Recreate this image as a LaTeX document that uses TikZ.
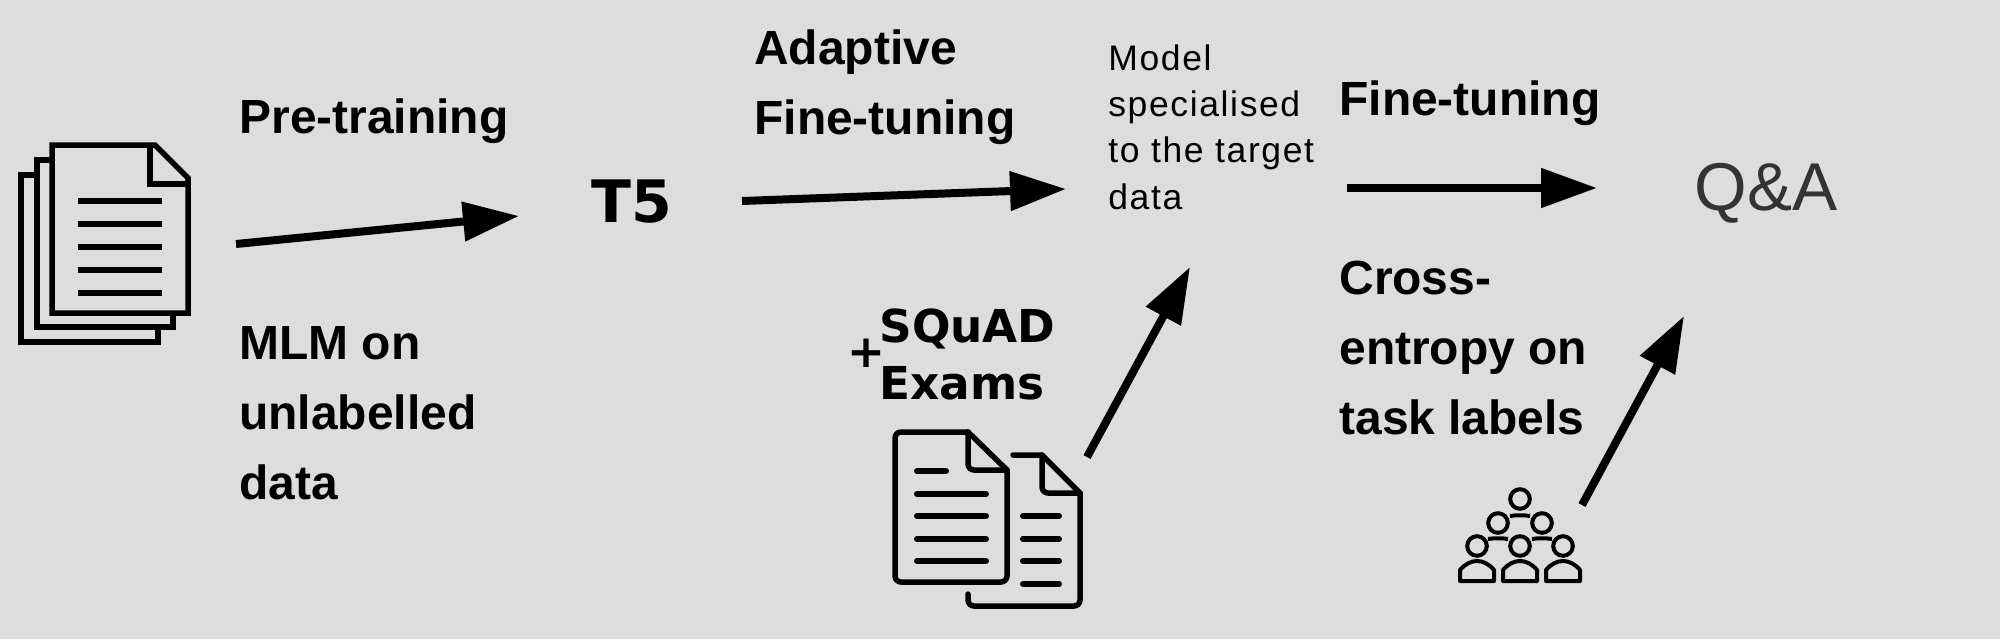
\documentclass[tikz,border=0pt]{standalone}
\usepackage{fontspec}
\setmainfont{Liberation Sans}
\newfontfamily\dejavu{DejaVu Sans}
\newfontfamily\spaced[LetterSpace=4.6]{Liberation Sans}
\usetikzlibrary{arrows.meta}
\definecolor{bgcol}{HTML}{DDDDDD}
\tikzset{
	heading/.style={anchor=base west,inner sep=0pt,align=left,font=\fontsize{27.3}{39.8}\selectfont\bfseries},
	plaintext/.style={anchor=base west,inner sep=0pt,align=left,font=\fontsize{20.2}{26.2}\selectfont\spaced},
	dvtext/.style={anchor=base west,inner sep=0pt,align=left,font=\fontsize{25.8}{31.9}\selectfont\dejavu\bfseries},
	arrowline/.style={-{Triangle[length=1.12cm,width=0.76cm]},line width=0.16cm},
}
\begin{document}
\begin{tikzpicture}[x=0.02cm,y=-0.02cm]
	\fill[bgcol] (0,0) rectangle (2000,639);
	\useasboundingbox (0,0) rectangle (2000,639);
	% stack of pages
	\draw[line width=5.5*0.02cm,miter limit=10] (52,145)--(155,145)--(188,178)--(188,313)--(52,313)--cycle;
	\draw[line width=5.5*0.02cm] (150,145)--(150,184)--(188,184);
	\draw[line width=5.5*0.02cm] (52,160)--(37,160)--(37,327)--(173,327)--(173,313);
	\draw[line width=5.5*0.02cm] (37,175)--(21,175)--(21,342)--(158,342)--(158,327);
	\foreach \y in {201,224,247,270,293}
		\draw[line width=6*0.02cm] (78,\y)--(162,\y);
	% two pages
	\begin{scope}[line width=5.5*0.02cm,line cap=round,line join=round]
		\draw[rounded corners=6*0.02cm] (968,432)--(895,432)--(895,582)--(1007,582)--(1007,470);
		\draw (968,432)--(1007,470);
		\draw[rounded corners=6*0.02cm] (968,432)--(968,470)--(1007,470);
		\draw[line width=6*0.02cm] (917,471)--(946,471);
		\foreach \y in {494,516,539,561}
			\draw[line width=6*0.02cm] (917,\y)--(986,\y);
		\draw (1013,455)--(1042,455)--(1080,493);
		\draw[rounded corners=6*0.02cm] (1080,493)--(1080,606)--(968,606)--(968,594);
		\draw[rounded corners=6*0.02cm] (1042,455)--(1042,493)--(1080,493);
		\foreach \y in {516,539,561,584}
			\draw[line width=6*0.02cm] (1023,\y)--(1059,\y);
	\end{scope}
	% people
	\begin{scope}[line width=4*0.02cm]
		\foreach \x/\y in {1520/499,1498/523,1542/523,1477/546,1520/546,1563/546}
			\draw (\x,\y) circle (9.8*0.02cm);
		\foreach \x in {1477,1520,1563}
			\draw[line join=round] (\x-17,581)--(\x-17,570) .. controls (\x-12,564) and (\x-6,561) .. (\x,561) .. controls (\x+6,561) and (\x+12,564) .. (\x+17,570)--(\x+17,581)--cycle;
		\foreach \x/\y in {1520/515,1498/538,1542/538}
			\draw (\x-10,\y+1) .. controls (\x-4,\y) and (\x+4,\y) .. (\x+10,\y+1);
	\end{scope}
	% texts
	\node[heading] (pretrain) at (239,133) {Pre-training};
	\node[heading] (mlm) at (239,499) {MLM on\\unlabelled\\data};
	\node[dvtext,font=\fontsize{33.3}{40}\selectfont\dejavu\bfseries] (t5) at (591,222) {T5};
	\node[heading] (adaptive) at (754,134) {Adaptive\\Fine-tuning};
	\node[plaintext] (model) at (1108,209) {Model\\specialised\\to the target\\data};
	\node[heading] (finetune) at (1339,115) {Fine-tuning};
	\node[heading] (cross) at (1339,434) {Cross-\\entropy on\\task labels};
	\node[plaintext,font=\fontsize{38.5}{40}\selectfont\rmfamily,text=black!80] (qa) at (1694,210) {Q\&A};
	\node[dvtext] (squad) at (879,399) {SQuAD\\Exams};
	\node[dvtext] (plus) at (847,367) {+};
	% arrows
	\coordinate (a1) at (236,244);
	\coordinate (b1) at (519,216);
	\coordinate (a2) at (742,201);
	\coordinate (b2) at (1066,189);
	\coordinate (a3) at (1347,188);
	\coordinate (b3) at (1597,188);
	\coordinate (a4) at (1087,457);
	\coordinate (b4) at (1190,267);
	\coordinate (a5) at (1582,505);
	\coordinate (b5) at (1684,316);
	\foreach \i in {1,...,5}
		\draw[arrowline] (a\i)--(b\i);
\end{tikzpicture}
\end{document}
